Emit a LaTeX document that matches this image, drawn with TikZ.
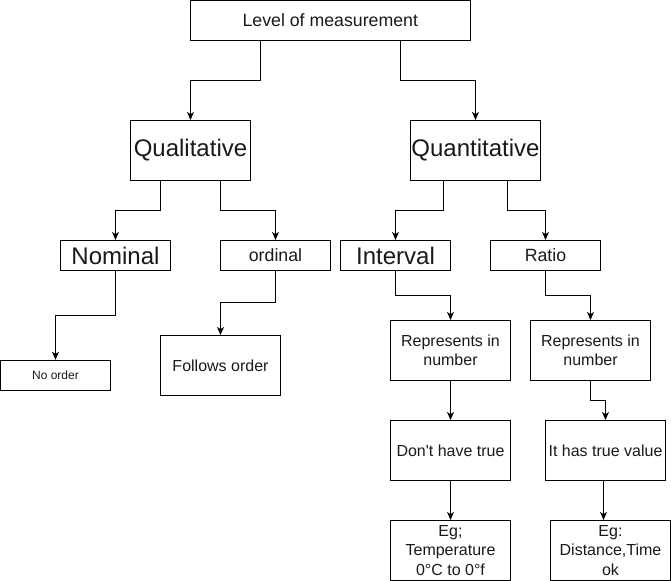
\documentclass[tikz,border=0pt]{standalone}
\usepackage{fontspec}
\setmainfont{Liberation Sans}[Ligatures=TeXOff]
\usetikzlibrary{arrows.meta}
\begin{document}
\begin{tikzpicture}[x=0.75pt,y=-0.75pt,
  box/.style={draw=black,line width=0.75pt,rectangle,inner sep=0pt,align=center,text=black!90},
  big/.style={font=\fontsize{18}{21}\selectfont},
  mid/.style={font=\fontsize{13.3}{16}\selectfont},
  sml/.style={font=\fontsize{12}{14.4}\selectfont},
  tiny/.style={font=\fontsize{9}{11}\selectfont},
  arr/.style={draw=black,line width=0.75pt,-{Stealth[length=6pt,width=5.2pt,inset=1.6pt]}}]
\useasboundingbox (0,0) rectangle (671,581);
% boxes
\node[box,mid,minimum width=280*0.75pt,minimum height=40*0.75pt] (lvl) at (330.3,20.5) {Level of measurement};
\node[box,big,minimum width=120*0.75pt,minimum height=60*0.75pt] (qual) at (190.5,150.5) {Qualitative};
\node[box,big,minimum width=130*0.75pt,minimum height=60*0.75pt] (quant) at (475.5,150.5) {Quantitative};
\node[box,big,minimum width=110*0.75pt,minimum height=30*0.75pt] (nom) at (115.5,255.5) {Nominal};
\node[box,mid,minimum width=110*0.75pt,minimum height=30*0.75pt] (ord) at (275.5,255.5) {ordinal};
\node[box,big,minimum width=110*0.75pt,minimum height=30*0.75pt] (int) at (395.5,255.5) {Interval};
\node[box,mid,minimum width=110*0.75pt,minimum height=30*0.75pt] (rat) at (545.5,255.5) {Ratio};
\node[box,tiny,minimum width=110*0.75pt,minimum height=30*0.75pt] (noord) at (55.5,375.3) {No order};
\node[box,sml,minimum width=120*0.75pt,minimum height=60*0.75pt] (fol) at (220.5,365.5) {Follows order};
\node[box,sml,minimum width=120*0.75pt,minimum height=60*0.75pt] (rep1) at (450.5,350.5) {Represents in\\number};
\node[box,sml,minimum width=120*0.75pt,minimum height=60*0.75pt] (rep2) at (590.5,350.5) {Represents in\\number};
\node[box,sml,minimum width=120*0.75pt,minimum height=60*0.75pt] (dont) at (450.5,450.5) {Don't have true};
\node[box,sml,minimum width=120*0.75pt,minimum height=60*0.75pt] (has) at (605.5,450.5) {It has true value};
\node[box,sml,minimum width=120*0.75pt,minimum height=60*0.75pt] (eg1) at (450.5,550.5) {Eg;\\Temperature\\0°C to 0°f};
\node[box,sml,minimum width=120*0.75pt,minimum height=60*0.75pt] (eg2) at (610.5,550.5) {Eg:\\Distance,Time\\ok};
% connectors
\draw[arr] (260.5,0 |- lvl.south) |- (0,80.5 -| qual.north) -- (qual.north);
\draw[arr] (400.5,0 |- lvl.south) |- (0,80.5 -| quant.north) -- (quant.north);
\draw[arr] (160.7,0 |- qual.south) |- (0,210.5 -| nom.north) -- (nom.north);
\draw[arr] (220.5,0 |- qual.south) |- (0,210.5 -| ord.north) -- (ord.north);
\draw[arr] (443,0 |- quant.south) |- (0,210.5 -| int.north) -- (int.north);
\draw[arr] (507.7,0 |- quant.south) |- (0,210.5 -| rat.north) -- (rat.north);
\draw[arr] (nom.south) |- (0,315.5 -| noord.north) -- (noord.north);
\draw[arr] (ord.south) |- (0,302.7 -| fol.north) -- (fol.north);
\draw[arr] (int.south) |- (0,295.3 -| rep1.north) -- (rep1.north);
\draw[arr] (rat.south) |- (0,295.3 -| rep2.north) -- (rep2.north);
\draw[arr] (rep1.south) -- (dont.north);
\draw[arr] (rep2.south) |- (0,400.3 -| has.north) -- (has.north);
\draw[arr] (dont.south) -- (eg1.north);
\draw[arr] (603.5,0 |- has.south) -- (603.5,0 |- eg2.north);
\end{tikzpicture}
\end{document}
